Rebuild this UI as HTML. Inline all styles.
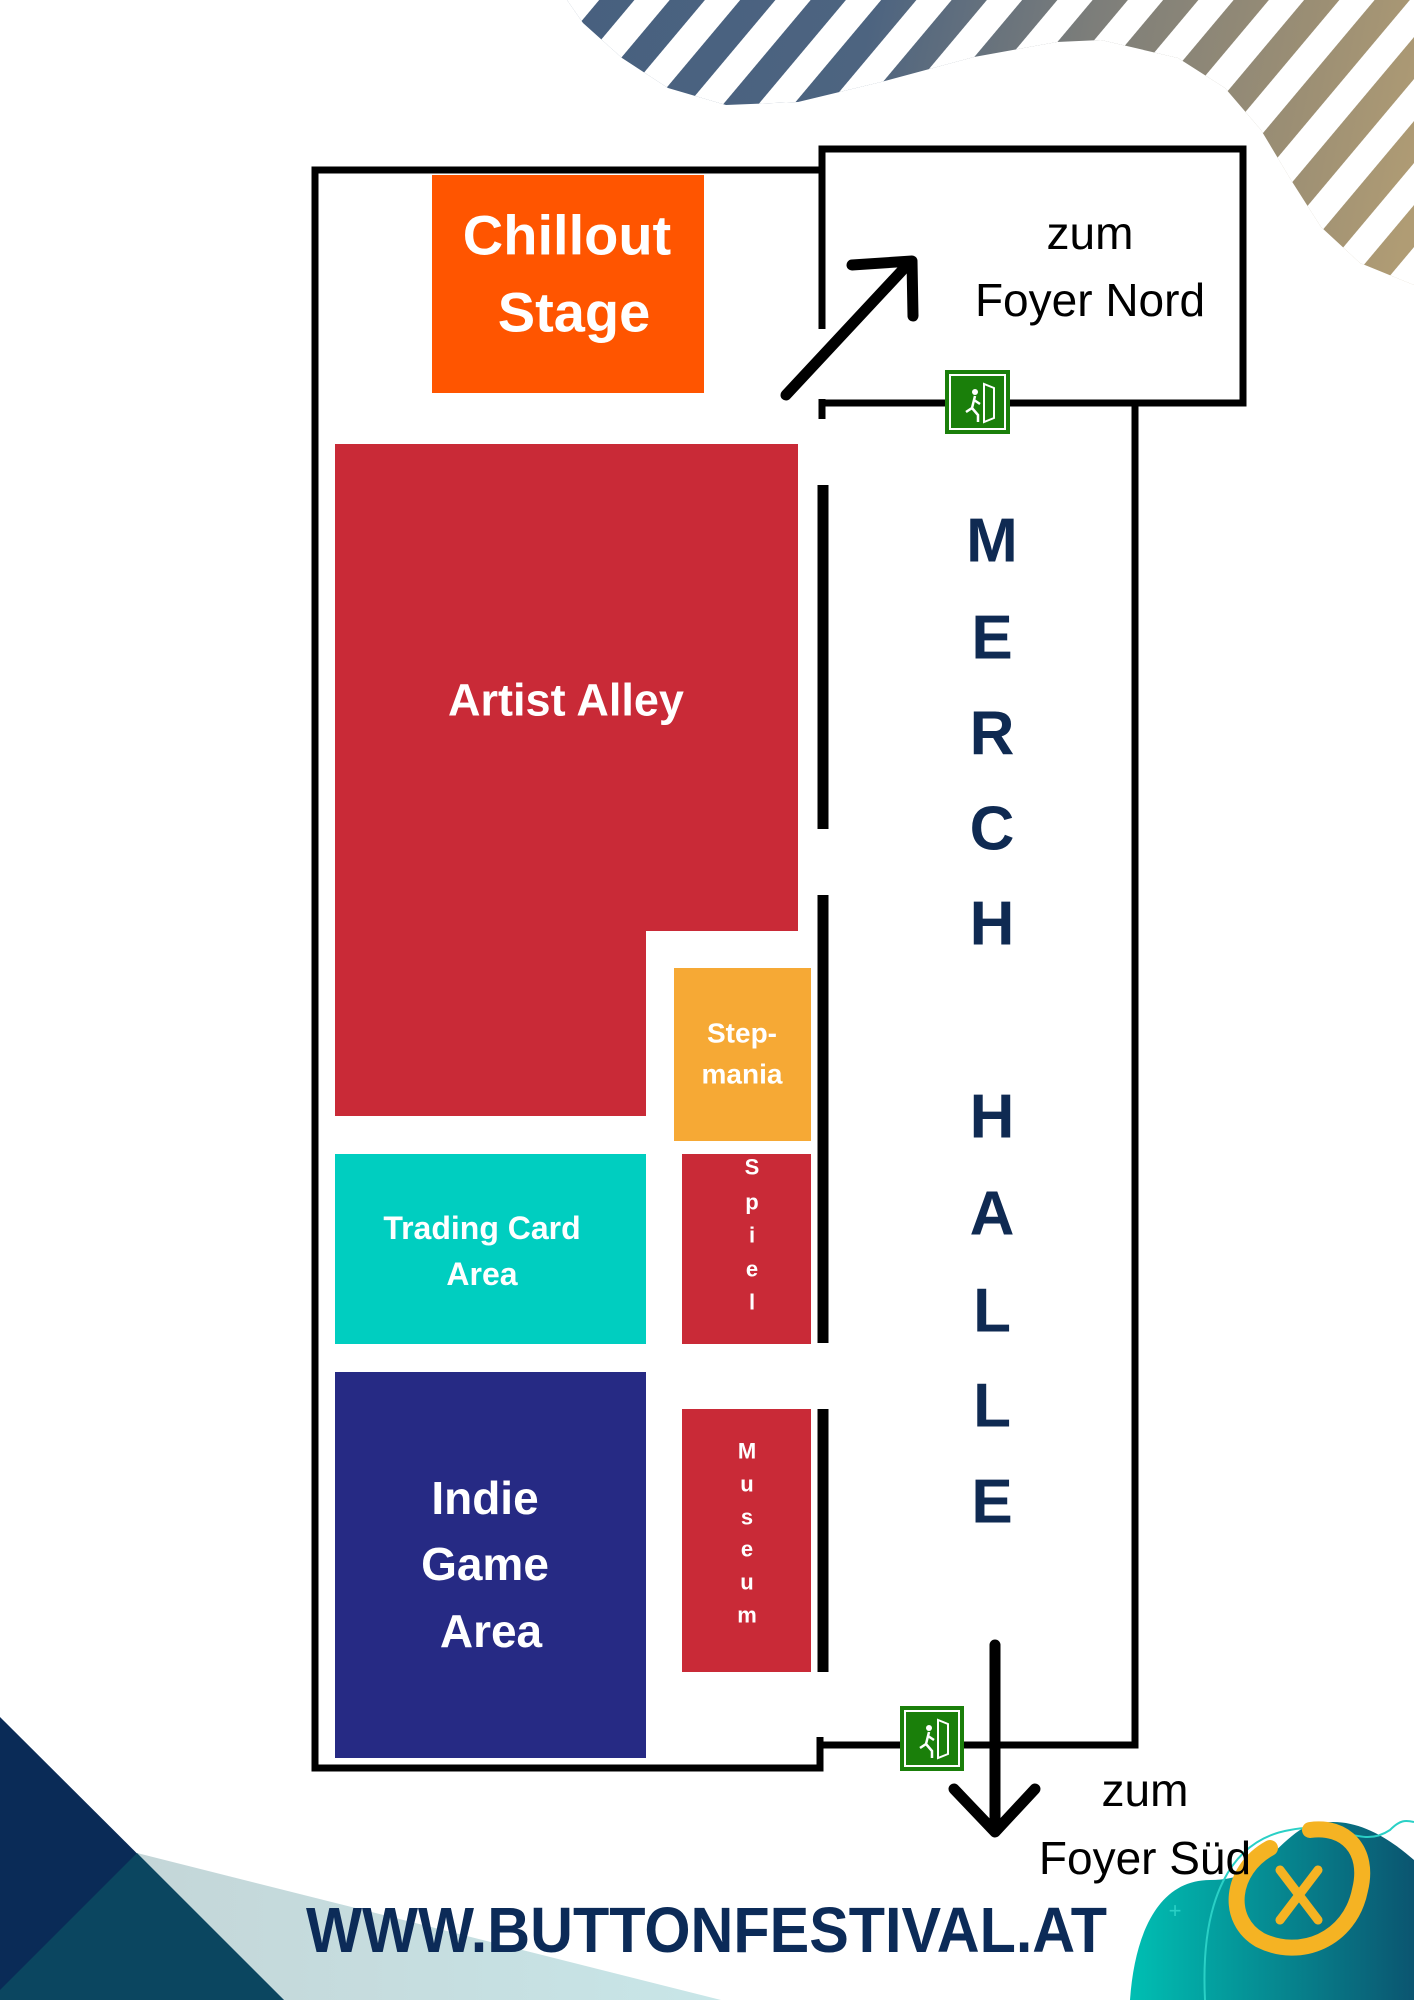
<!DOCTYPE html>
<html><head><meta charset="utf-8"><style>
html,body{margin:0;padding:0;background:#fff;}
svg{display:block;}
text{font-family:"Liberation Sans",sans-serif;}
</style></head><body>
<svg width="1414" height="2000" viewBox="0 0 1414 2000" xmlns="http://www.w3.org/2000/svg">
<defs>
  <linearGradient id="sg" x1="560" y1="0" x2="1414" y2="200" gradientUnits="userSpaceOnUse">
    <stop offset="0" stop-color="#47607f"/>
    <stop offset="0.35" stop-color="#4d6480"/>
    <stop offset="0.6" stop-color="#7d7e7a"/>
    <stop offset="0.85" stop-color="#9c8f74"/>
    <stop offset="1" stop-color="#b09c74"/>
  </linearGradient>
  <pattern id="stripes" patternUnits="userSpaceOnUse" width="54" height="54" patternTransform="rotate(40)">
    <rect x="0" y="0" width="27" height="54" fill="#fff"/>
  </pattern>
  <clipPath id="band">
    <path d="M567 0 L583 23 L622 58 L668 88 L726 105 L798 102 L881 82 L974 57 L1057 42 L1101 40 L1178 58 L1225 88 L1261 130 L1291 180 L1321 227 L1360 263 L1414 285 L1414 0 Z"/>
  </clipPath>
  <linearGradient id="tealg" x1="0" y1="0" x2="1" y2="0">
    <stop offset="0" stop-color="#00bfb3"/>
    <stop offset="1" stop-color="#0b5570"/>
  </linearGradient>
  <linearGradient id="lg" x1="0" y1="0" x2="1" y2="0">
    <stop offset="0" stop-color="#c4d6d8"/>
    <stop offset="1" stop-color="#c8e6e8"/>
  </linearGradient>
</defs>

<!-- top stripes -->
<g clip-path="url(#band)">
  <polygon points="1288,0 1414,0 1414,77" fill="#48607f"/>
  <rect x="540" y="0" width="874" height="300" fill="url(#sg)"/>
  <rect x="540" y="0" width="874" height="300" fill="url(#stripes)"/>
</g>

<!-- bottom left -->
<polygon points="0,1717 284,2000 0,2000" fill="#0a2b57"/>
<polygon points="137,1853 721,2000 284,2000" fill="url(#lg)"/>
<polygon points="137,1853 284,2000 0,2000 0,1990" fill="#0b4660"/>

<!-- bottom right blob -->
<path d="M1130 2000 C1135 1930 1160 1880 1210 1880 C1260 1880 1270 1850 1300 1830 C1340 1810 1380 1830 1414 1860 L1414 2000 Z" fill="url(#tealg)"/>
<path d="M1205 2000 C1200 1900 1230 1840 1290 1830 C1340 1820 1360 1850 1390 1830 C1400 1820 1405 1820 1414 1822" fill="none" stroke="#2ad0c6" stroke-width="2"/>
<path d="M1270 1848 C1230 1870 1225 1920 1260 1940 C1300 1960 1350 1940 1360 1890 C1370 1850 1345 1825 1310 1830" fill="none" stroke="#f5b323" stroke-width="16" stroke-linecap="round"/>
<line x1="1280" y1="1870" x2="1318" y2="1920" stroke="#f5b323" stroke-width="9" stroke-linecap="round"/>
<line x1="1318" y1="1870" x2="1280" y2="1920" stroke="#f5b323" stroke-width="9" stroke-linecap="round"/>
<text x="1175" y="1918" font-size="22" fill="#2ad0c6" text-anchor="middle">+</text>

<!-- areas -->
<rect x="432" y="175" width="272" height="218" fill="#ff5500"/>
<path d="M335 444 H798 V931 H646 V1116 H335 Z" fill="#c92a37"/>
<rect x="674" y="968" width="137" height="173" fill="#f6a935"/>
<rect x="335" y="1154" width="311" height="190" fill="#00cec0"/>
<rect x="682" y="1154" width="129" height="190" fill="#c92a37"/>
<rect x="335" y="1372" width="311" height="386" fill="#262a84"/>
<rect x="682" y="1409" width="129" height="263" fill="#c92a37"/>

<!-- walls -->
<g stroke="#000" fill="none" stroke-width="7">
  <path d="M822 170 H315 V1768 H820 V1737"/>
  <path d="M822 329 V149 H1243 V403 H822"/>
  <path d="M822 399 V419"/>
  <path d="M1135 403 V1745 H820"/>
</g>
<g stroke="#000" stroke-width="11">
  <line x1="823" y1="485" x2="823" y2="829"/>
  <line x1="823" y1="895" x2="823" y2="1343"/>
  <line x1="823" y1="1409" x2="823" y2="1672"/>
</g>

<!-- arrows -->
<g stroke="#000" stroke-width="11" stroke-linecap="round" stroke-linejoin="round" fill="none">
  <line x1="786" y1="395" x2="910" y2="262"/>
  <polyline points="852,265 912,261 913,316"/>
  <line x1="995" y1="1645" x2="995" y2="1830"/>
  <polyline points="954,1789 995,1832 1035,1789"/>
</g>

<!-- exit signs -->
<g>
  <rect x="945" y="370" width="65" height="64" fill="#1a7f0a"/>
  <rect x="950" y="375" width="55" height="54" fill="none" stroke="#fff" stroke-width="2"/>
  <path d="M984 384 V422 L994 418 V388 Z" fill="none" stroke="#fff" stroke-width="2"/>
  <circle cx="975" cy="392" r="3" fill="#fff"/>
  <path d="M975 396 L972 408 L966 412 M972 408 L978 415 L978 422 M974 400 L980 404" stroke="#fff" stroke-width="2.5" fill="none"/>
  <rect x="900" y="1706" width="64" height="65" fill="#1a7f0a"/>
  <rect x="905" y="1711" width="54" height="55" fill="none" stroke="#fff" stroke-width="2"/>
  <path d="M938 1720 V1758 L948 1754 V1724 Z" fill="none" stroke="#fff" stroke-width="2"/>
  <circle cx="929" cy="1728" r="3" fill="#fff"/>
  <path d="M929 1732 L926 1744 L920 1748 M926 1744 L932 1751 L932 1758 M928 1736 L934 1740" stroke="#fff" stroke-width="2.5" fill="none"/>
</g>

<!-- labels -->
<g fill="#fff" font-weight="bold" text-anchor="middle" dominant-baseline="central">
  <text x="567" y="235" font-size="56">Chillout</text>
  <text x="574" y="312" font-size="56">Stage</text>
  <text x="566" y="700" font-size="45">Artist Alley</text>
  <text x="742" y="1033" font-size="28">Step-</text>
  <text x="742" y="1074" font-size="28">mania</text>
  <text x="482" y="1228" font-size="32">Trading Card</text>
  <text x="482" y="1274" font-size="32">Area</text>
  <text x="485" y="1498" font-size="46">Indie</text>
  <text x="485" y="1564" font-size="46">Game</text>
  <text x="491" y="1631" font-size="46">Area</text>
  <g font-size="22">
    <text x="752" y="1167">S</text><text x="752" y="1202">p</text><text x="752" y="1235">i</text>
    <text x="752" y="1269">e</text><text x="752" y="1302">l</text>
    <text x="747" y="1451">M</text><text x="747" y="1484">u</text><text x="747" y="1517">s</text>
    <text x="747" y="1549">e</text><text x="747" y="1582">u</text><text x="747" y="1615">m</text>
  </g>
</g>
<g fill="#0f2a52" font-weight="bold" font-size="62" text-anchor="middle" dominant-baseline="central">
  <text x="992" y="541">M</text><text x="992" y="638">E</text><text x="992" y="734">R</text>
  <text x="992" y="829">C</text><text x="992" y="924">H</text><text x="992" y="1117">H</text>
  <text x="992" y="1214">A</text><text x="992" y="1311">L</text><text x="992" y="1406">L</text>
  <text x="992" y="1502">E</text>
</g>
<g fill="#000" font-size="46" text-anchor="middle" dominant-baseline="central">
  <text x="1090" y="233">zum</text>
  <text x="1090" y="300">Foyer Nord</text>
  <text x="1145" y="1790">zum</text>
  <text x="1145" y="1858">Foyer Süd</text>
</g>
<text x="306" y="1952" font-size="64" font-weight="bold" fill="#0c2b58" textLength="801" lengthAdjust="spacingAndGlyphs">WWW.BUTTONFESTIVAL.AT</text>
</svg>
</body></html>
